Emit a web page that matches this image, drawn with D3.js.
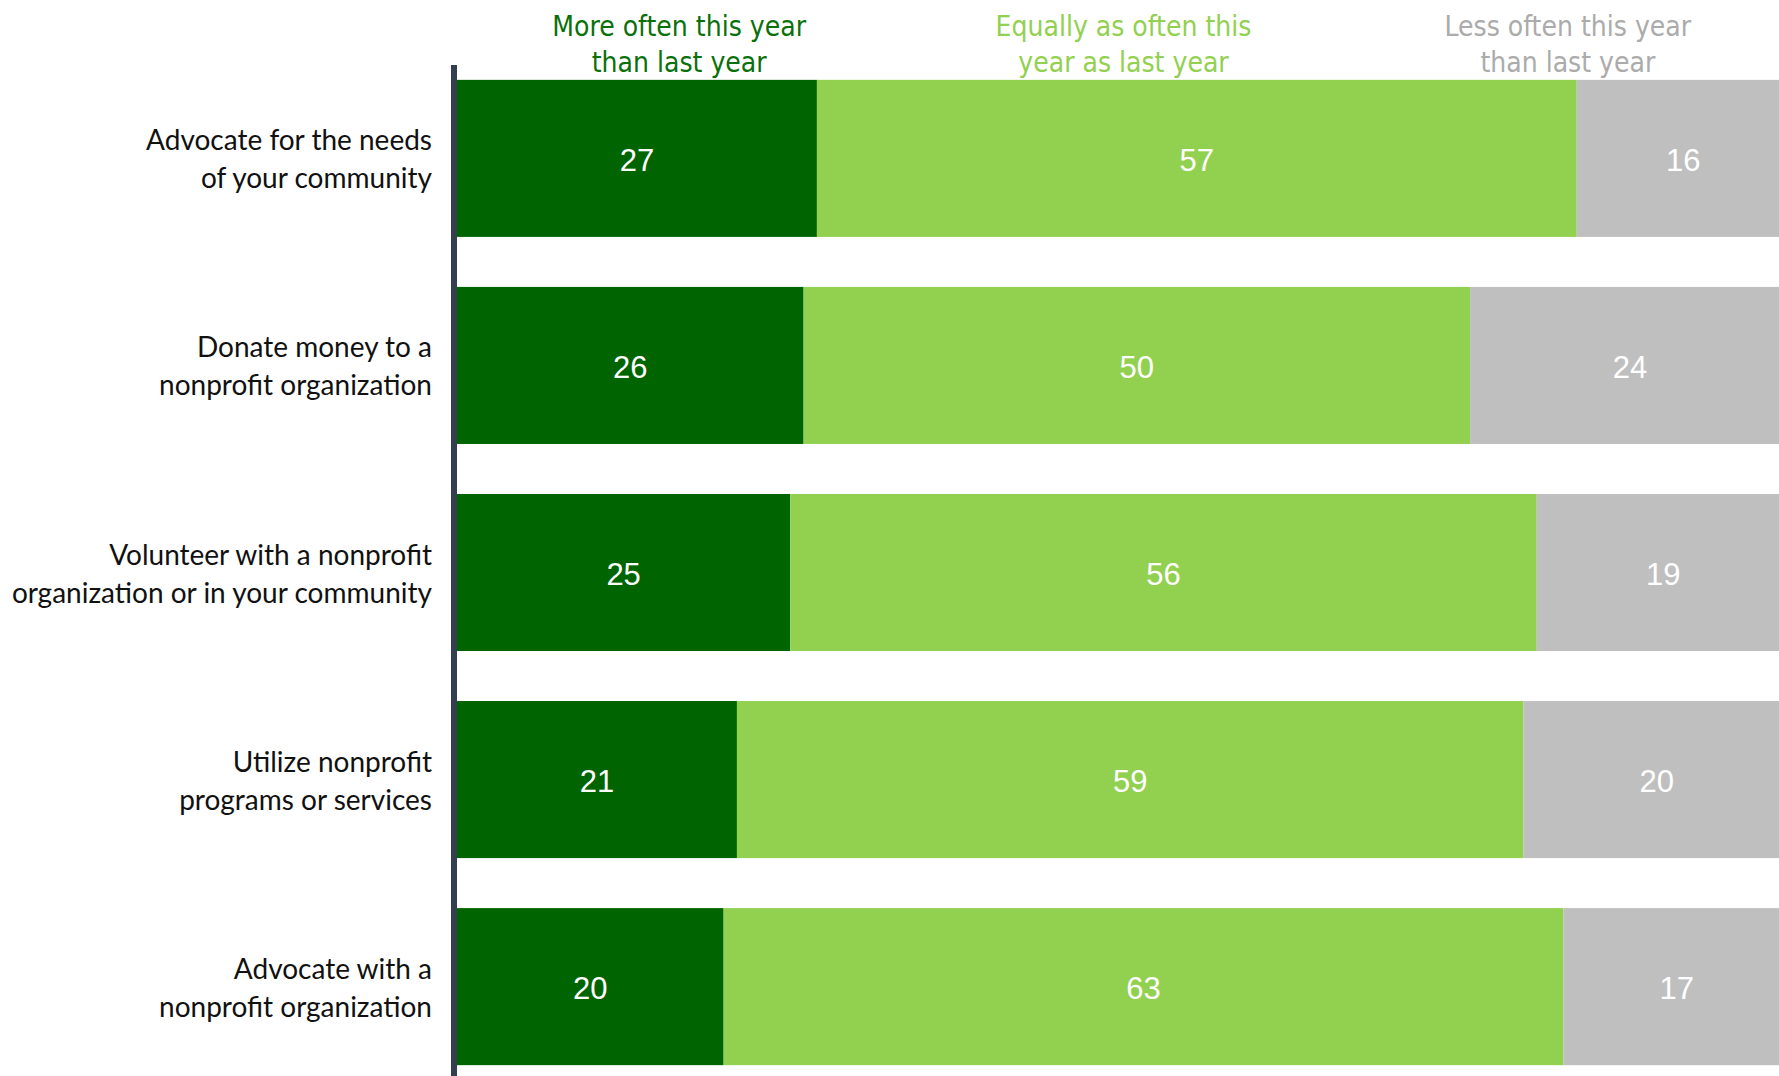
<!DOCTYPE html>
<html>
<head>
<meta charset="utf-8">
<script src="https://cdn.jsdelivr.net/npm/d3@7"></script>
<style>
  html, body { margin: 0; padding: 0; background: #fff; }
  svg { display: block; }
</style>
</head>
<body>
<div id="chart"></div>
<script>
// ---- Data ----
const categories = [
  "Advocate for the needs of your community",
  "Donate money to a nonprofit organization",
  "Volunteer with a nonprofit organization or in your community",
  "Utilize nonprofit programs or services",
  "Advocate with a nonprofit organization"
];
const categoryLines = [
  ["Advocate for the needs", "of your community"],
  ["Donate money to a", "nonprofit organization"],
  ["Volunteer with a nonprofit", "organization or in your community"],
  ["Utilize nonprofit", "programs or services"],
  ["Advocate with a", "nonprofit organization"]
];
const seriesKeys = ["more", "equal", "less"];
const seriesLabels = [
  ["More often this year", "than last year"],
  ["Equally as often this", "year as last year"],
  ["Less often this year", "than last year"]
];
const moreValues  = [27, 26, 25, 21, 20];
const equalValues = [57, 50, 56, 59, 63];
const lessValues  = [16, 24, 19, 20, 17];

const barColors = ["#006400", "#92d050", "#bfbfbf"];
const legendColors = ["#0a700a", "#92d050", "#ababab"];

// ---- Layout ----
const W = 1779, H = 1076;
const rows = categories.map((c, i) => ({
  category: c, more: moreValues[i], equal: equalValues[i], less: lessValues[i]
}));

const svg = d3.select("#chart").append("svg")
  .attr("width", W).attr("height", H);

const x = d3.scaleLinear().domain([0, 100]).range([457, 1790]);
const y = d3.scaleBand().domain(categories).range([55, 1090])
  .paddingInner(0.2415).paddingOuter(0.12);

const stack = d3.stack().keys(seriesKeys);
const series = stack(rows);

svg.append("defs").append("clipPath").attr("id", "clip")
  .append("rect").attr("x", 0).attr("y", 0).attr("width", W).attr("height", H);

const gBars = svg.append("g").attr("clip-path", "url(#clip)");
series.forEach((s, si) => {
  const g = gBars.append("g");
  g.selectAll("rect").data(s).enter().append("rect")
    .attr("x", d => x(d[0]))
    .attr("y", d => y(d.data.category))
    .attr("width", d => x(d[1]) - x(d[0]))
    .attr("height", y.bandwidth())
    .attr("fill", barColors[si]);
  g.selectAll("text").data(s).enter().append("text")
    .attr("x", d => (x(d[0]) + x(d[1])) / 2)
    .attr("y", d => y(d.data.category) + y.bandwidth() / 2 + 2)
    .attr("text-anchor", "middle")
    .attr("dominant-baseline", "central")
    .attr("fill", "#ffffff")
    .style("font-family", "'Liberation Sans', Arial, sans-serif")
    .style("font-size", "31px")
    .text(d => d[1] - d[0]);
});

// Axis line
svg.append("line")
  .attr("x1", x(0) - 3).attr("x2", x(0) - 3)
  .attr("y1", y.range()[0] + 10).attr("y2", H)
  .attr("stroke", "#333f50").attr("stroke-width", 6);

// Category labels
const gLab = svg.append("g");
categories.forEach((c, i) => {
  const cy = y(c) + y.bandwidth() / 2;
  const lines = categoryLines[i];
  const lh = 38;
  lines.forEach((ln, j) => {
    gLab.append("text")
      .attr("x", 432)
      .attr("y", cy + (j - (lines.length - 1) / 2) * lh)
      .attr("text-anchor", "end")
      .attr("dominant-baseline", "central")
      .attr("fill", "#111")
      .style("font-family", "Lato, 'Liberation Sans', sans-serif")
      .style("font-size", "28px")
      .text(ln);
  });
});

// Legend headers
seriesLabels.forEach((lines, i) => {
  const cx = x((i + 0.5) * 100 / 3);
  lines.forEach((ln, j) => {
    svg.append("text")
      .attr("x", cx)
      .attr("y", 26 + j * 36)
      .attr("text-anchor", "middle")
      .attr("dominant-baseline", "central")
      .attr("fill", legendColors[i])
      .style("font-family", "'DejaVu Sans Condensed', 'Liberation Sans Narrow', sans-serif")
      .style("font-size", "28px")
      .text(ln);
  });
});
</script>
</body>
</html>
